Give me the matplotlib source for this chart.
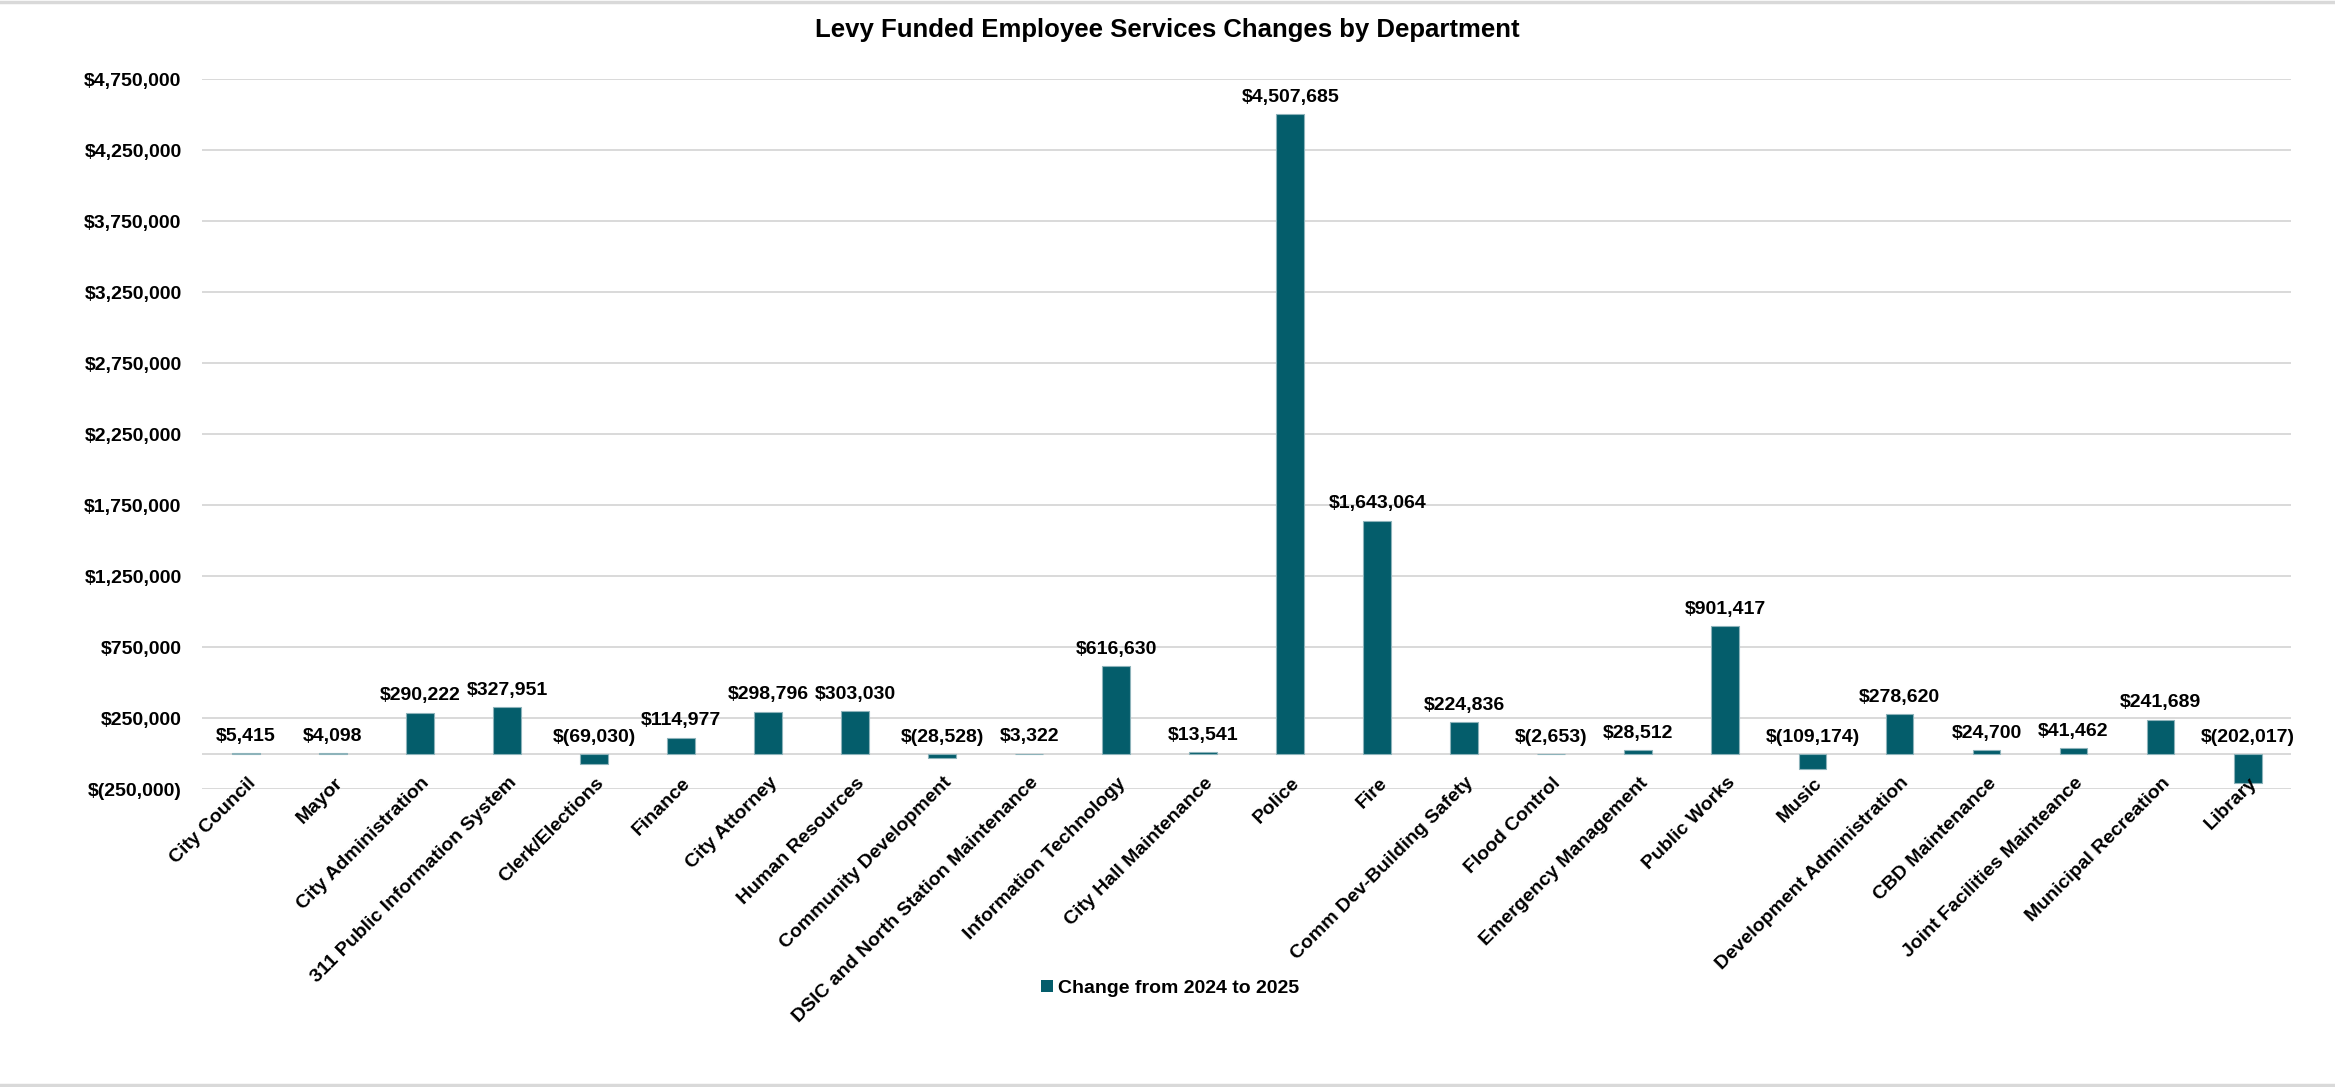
import matplotlib
matplotlib.use("Agg")
import matplotlib.pyplot as plt
from matplotlib.patches import Patch
from matplotlib.lines import Line2D
from matplotlib.ticker import FuncFormatter, FixedLocator

departments = [
    "City Council", "Mayor", "City Administration", "311 Public Information System",
    "Clerk/Elections", "Finance", "City Attorney", "Human Resources",
    "Community Development", "DSIC and North Station Maintenance",
    "Information Technology", "City Hall Maintenance", "Police", "Fire",
    "Comm Dev-Building Safety", "Flood Control", "Emergency Management",
    "Public Works", "Music", "Development Administration", "CBD Maintenance",
    "Joint Facilities Mainteance", "Municipal Recreation", "Library",
]
changes = [
    5415, 4098, 290222, 327951, -69030, 114977, 298796, 303030, -28528, 3322,
    616630, 13541, 4507685, 1643064, 224836, -2653, 28512, 901417, -109174,
    278620, 24700, 41462, 241689, -202017,
]
y_ticks = [-250000, 250000, 750000, 1250000, 1750000, 2250000, 2750000,
           3250000, 3750000, 4250000, 4750000]
series_name = "Change from 2024 to 2025"
title = "Levy Funded Employee Services Changes by Department"

BAR = "#045D6B"
EDGE = "#8DB3BA"
GRID = "#D9D9D9"
FONT = ["Liberation Sans", "DejaVu Sans"]
plt.rcParams["font.family"] = FONT


def money(v):
    if v < 0:
        return "$({:,.0f})".format(-v)
    return "${:,.0f}".format(v)


fig = plt.figure(figsize=(23.35, 10.87), dpi=100)
ax = fig.add_axes([0.0867, 0.2737, 0.8945, 0.6532])

x = list(range(len(departments)))
ax.bar(x, changes, width=0.32, color=BAR, edgecolor=EDGE, linewidth=0.8, zorder=3)

ax.set_xlim(-0.5, len(departments) - 0.5)
ax.set_ylim(-250000, 4750000)
ax.yaxis.set_major_locator(FixedLocator(y_ticks))
ax.yaxis.set_major_formatter(FuncFormatter(lambda v, p: money(v)))
ax.grid(axis="y", color=GRID, linewidth=1.4, zorder=0)
ax.axhline(0, color=GRID, linewidth=1.4, zorder=1)
for s in ax.spines.values():
    s.set_visible(False)
ax.tick_params(axis="y", length=0, pad=15, labelsize=14)
for lab in ax.get_yticklabels():
    lab.set_fontweight("bold")
ax.set_xticks([])

for xi, v in zip(x, changes):
    ax.annotate(money(v), (xi, max(v, 0)), xytext=(0, 6), textcoords="offset points",
                ha="center", va="bottom", fontsize=14, fontweight="bold", zorder=4)

for xi, name in zip(x, departments):
    ax.annotate(name, (xi, 0), xytext=(5, -19), textcoords="offset points",
                ha="right", va="center", rotation=45, rotation_mode="anchor",
                fontsize=14, fontweight="bold", zorder=5, annotation_clip=False)

fig.text(0.5, 0.972, title, ha="center", va="center", fontsize=18.5, fontweight="bold")

fig.legend(handles=[Patch(facecolor=BAR, label=series_name)], loc="center",
           bbox_to_anchor=(0.501, 0.091), frameon=False, prop={"weight": "bold", "size": 14},
           handlelength=0.6, handleheight=0.6, handletextpad=0.25)

fig.add_artist(Line2D([0, 1], [0.998, 0.998], color=GRID, linewidth=2.5, transform=fig.transFigure))
fig.add_artist(Line2D([0, 1], [0.002, 0.002], color=GRID, linewidth=2.5, transform=fig.transFigure))

fig.savefig("out.png", dpi=100)
